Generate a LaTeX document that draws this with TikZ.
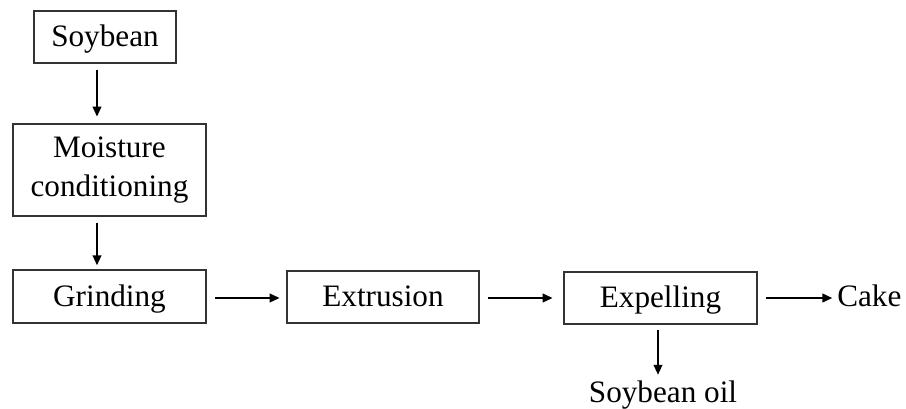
\documentclass[tikz,border=0pt]{standalone}
\usepackage{fontspec}
\setmainfont{Liberation Serif}
\usetikzlibrary{arrows.meta}
\begin{document}
\begin{tikzpicture}[x=0.75pt,y=-0.75pt,
  every node/.style={font=\fontsize{23.4}{28.6}\selectfont},
  stepbox/.style={draw=black!80,line width=1.1pt,inner sep=0pt,align=center},
  oneline/.style={text height=16pt,text depth=1pt},
  flow/.style={line width=1.5pt,-{Triangle[length=7.5pt,width=6.5pt]}},
  label/.style={inner sep=0pt}]
  \useasboundingbox (0,0) rectangle (906,409);

  % process boxes
  \node[stepbox,oneline,minimum width=142*0.75pt,minimum height=52*0.75pt] (soy) at (105,37) {Soybean};
  \node[stepbox,minimum width=193*0.75pt,minimum height=92*0.75pt] (moist) at (109.5,170) {Moisture\\conditioning};
  \node[stepbox,oneline,minimum width=193*0.75pt,minimum height=53*0.75pt] (grind) at (109.5,296.5) {Grinding};
  \node[stepbox,oneline,minimum width=192*0.75pt,minimum height=52*0.75pt] (extr) at (383,297) {Extrusion};
  \node[stepbox,oneline,minimum width=193*0.75pt,minimum height=52*0.75pt] (expel) at (660.5,298) {Expelling};

  % products
  \node[label,anchor=west] (cake) at (837,296) {Cake};
  \node[label,anchor=base] (oil) at (663,402) {Soybean oil};

  % guide lines for the connectors
  \coordinate (col) at (97,0);
  \coordinate (row) at (0,298);
  \coordinate (oilcol) at (658,0);

  % connectors
  \draw[flow,shorten <=4.5pt,shorten >=5pt] (soy.south -| col) -- (moist.north -| col);
  \draw[flow,shorten <=4.5pt,shorten >=3pt] (moist.south -| col) -- (grind.north -| col);
  \draw[flow,shorten <=6.5pt,shorten >=5pt] (grind.east |- row) -- (extr.west |- row);
  \draw[flow,shorten <=6.5pt,shorten >=8pt] (extr.east |- row) -- (expel.west |- row);
  \draw[flow,shorten <=6pt,shorten >=3.5pt] (expel.east |- row) -- (cake.west |- row);
  \draw[flow,shorten <=4pt,shorten >=4pt] (expel.south -| oilcol) -- (oil.north -| oilcol);
\end{tikzpicture}
\end{document}
